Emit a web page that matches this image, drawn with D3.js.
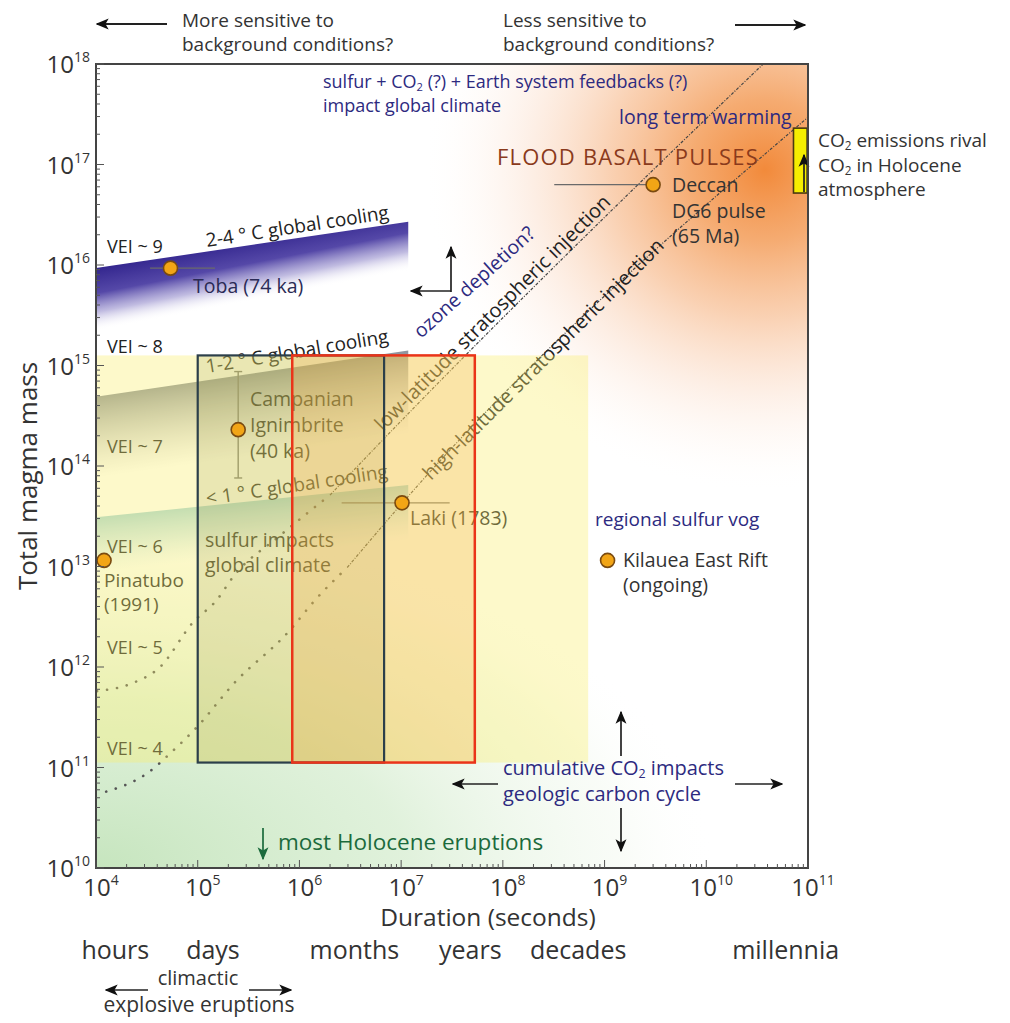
<!DOCTYPE html>
<html><head><meta charset="utf-8">
<script src="https://cdn.jsdelivr.net/npm/d3@7"></script>
<style>
body{margin:0;background:#fff}
svg text{font-family:'Open Sans','Noto Sans',sans-serif}
</style>
</head><body>
<svg id="c" width="1010" height="1023"></svg>
<script>
// ---------------- DATA ----------------
const xTickExp = [4,5,6,7,8,9,10,11];
const yTickExp = [10,11,12,13,14,15,16,17,18];

const timeWords   = ["hours","days","months","years","decades","millennia"];
const timeWordLog = [4.19, 5.15, 6.54, 7.68, 8.74, 10.78];

const eruptionNames    = ["Toba","Campanian","Pinatubo","Laki","Kilauea","Deccan"];
const eruptionDuration = [5.4e4, 2.5e5, 1.2e4, 1.02e7, 1.07e9, 3.0e9];
const eruptionMass     = [9.3e15, 2.3e14, 1.15e13, 4.3e13, 1.15e13, 6.3e16];

// horizontal error bars: [durLow, durHigh, mass]
const hErrorBars = [[3.4e4, 1.48e5, 9.3e15], [2.6e6, 3.0e7, 4.3e13], [3.2e8, 3.0e9, 6.3e16]];
// vertical error bar: [duration, massLow, massHigh]
const vErrorBars = [[2.5e5, 7.6e13, 8.7e14]];

// curves, [log10 duration, log10 mass]
const vei5Dotted   = [[4.01,11.76],[4.36,11.84],[4.63,12.00],[4.95,12.44],[5.19,12.67],[5.35,12.90],[5.80,13.30],[6.30,13.71]];
const lowLatLine   = [[6.30,13.71],[6.82,14.26],[9.40,16.87],[10.56,18.0]];
const vei4Dotted   = [[4.10,10.76],[4.50,10.94],[4.76,11.17],[4.99,11.40],[5.35,11.83],[5.91,12.37],[6.14,12.65],[6.47,12.99]];
const highLatLine  = [[6.47,12.99],[7.01,13.63],[11.0,17.47]];

// cooling bands: top edge [log dur, log mass]
const purpleBandTop = [[4.0,15.97],[7.07,16.43]];
const grayBandTop   = [[4.0,14.69],[7.07,15.15]];
const tealBandTop   = [[4.0,13.49],[7.07,13.81]];

// boxes [durMin, durMax, massMin, massMax]
const yellowBox = [1e4, 6.9e8, 1.12e11, 1.26e15];
const darkBox   = [1e5, 6.8e6, 1.12e11, 1.26e15];
const redBox    = [8.5e5, 5.3e7, 1.12e11, 1.26e15];
const co2Bar    = [7.2e10, 9.8e10, 5.2e16, 2.3e17];

// ---------------- SETUP ----------------
const svg = d3.select("#c");
const x = d3.scaleLog().domain([1e4,1e11]).range([96,808]);
const y = d3.scaleLog().domain([1e10,1e18]).range([868,64]);
const P = v => Math.pow(10, v);
const lx = v => x(P(v)), ly = v => y(P(v));

const defs = svg.append("defs");
defs.append("clipPath").attr("id","plotClip").append("rect")
  .attr("x",x(1e4)).attr("y",y(1e18)).attr("width",x(1e11)-x(1e4)).attr("height",y(1e10)-y(1e18));

defs.append("marker").attr("id","ah").attr("viewBox","0 0 10 10").attr("refX",9).attr("refY",5)
  .attr("markerWidth",13).attr("markerHeight",13).attr("markerUnits","userSpaceOnUse").attr("orient","auto")
  .append("path").attr("d","M0,0.8 L10,5 L0,9.2 L2.5,5 z").attr("fill","#111");
defs.append("marker").attr("id","ahg").attr("viewBox","0 0 10 10").attr("refX",9).attr("refY",5)
  .attr("markerWidth",13).attr("markerHeight",13).attr("markerUnits","userSpaceOnUse").attr("orient","auto")
  .append("path").attr("d","M0,0.8 L10,5 L0,9.2 L2.5,5 z").attr("fill","#1b6a3c");

function stops(g, arr){ arr.forEach(s=>g.append("stop").attr("offset",s[0]).attr("stop-color",s[1]).attr("stop-opacity",s[2])); }

// orange radial
const og = defs.append("radialGradient").attr("id","orangeG").attr("gradientUnits","userSpaceOnUse")
  .attr("cx",765).attr("cy",170).attr("r",380)
  .attr("gradientTransform","translate(765,170) scale(0.9,0.85) translate(-765,-170)");
stops(og, [[0,"#f07a20",0.88],[0.22,"#f29145",0.76],[0.45,"#f5aa72",0.55],[0.7,"#f9cdb0",0.3],[0.88,"#fde8da",0.12],[1,"#ffffff",0]]);

// green radial
const gg = defs.append("radialGradient").attr("id","greenG").attr("gradientUnits","userSpaceOnUse")
  .attr("cx",96).attr("cy",868).attr("r",620)
  .attr("gradientTransform","translate(96,868) scale(1,0.55) translate(-96,-868)");
stops(gg, [[0,"#c6e5be",1],[0.5,"#d6edd0",0.75],[0.85,"#eef7ea",0.35],[1,"#ffffff",0]]);

const plot = svg.append("g").attr("clip-path","url(#plotClip)");
plot.append("rect").attr("x",96).attr("y",64).attr("width",712).attr("height",804).attr("fill","#fff");
plot.append("rect").attr("x",96).attr("y",64).attr("width",712).attr("height",804).attr("fill","url(#greenG)");
plot.append("rect").attr("x",96).attr("y",64).attr("width",712).attr("height",804).attr("fill","url(#orangeG)");

// bands: gradient tilted so the right end fades faster
function band(top, L, tilt, depth, id, st){
  const x0 = lx(top[0][0]), y0 = ly(top[0][1]), x1 = lx(top[1][0]), y1 = ly(top[1][1]);
  const th = tilt*Math.PI/180;
  const lg = defs.append("linearGradient").attr("id",id).attr("gradientUnits","userSpaceOnUse")
    .attr("x1",x0).attr("y1",y0).attr("x2",x0+L*Math.sin(th)).attr("y2",y0+L*Math.cos(th));
  stops(lg, st);
  plot.append("path").attr("d",`M${x0},${y0}L${x1},${y1}L${x1},${y1+depth}L${x0},${y0+depth}Z`)
    .attr("fill",`url(#${id})`);
}
band(purpleBandTop, 62, 11, 120, "purpleG", [[0,"#33268e",1],[0.4,"#4638a0",0.92],[0.7,"#8d84c8",0.55],[1,"#ffffff",0]]);
band(grayBandTop, 80, 8, 120, "grayG", [[0,"#8a909a",0.95],[0.35,"#a2a6aa",0.65],[1,"#c0c0c0",0]]);
band(tealBandTop, 55, 6, 90, "tealG", [[0,"#a2d2d6",0.95],[0.5,"#b9dde0",0.55],[1,"#d0e8e8",0]]);

// ---------------- LINES ----------------
const line = d3.line().x(d=>lx(d[0])).y(d=>ly(d[1])).curve(d3.curveMonotoneX);
[vei5Dotted, vei4Dotted].forEach(c=>{
  plot.append("path").attr("d",line(c)).attr("fill","none").attr("stroke","#555")
    .attr("stroke-width",2.6).attr("stroke-linecap","round").attr("stroke-dasharray","0.1 10");
});
[lowLatLine, highLatLine].forEach(c=>{
  plot.append("path").attr("d",line(c)).attr("fill","none").attr("stroke","#444")
    .attr("stroke-width",1.2).attr("stroke-dasharray","3 1.5 1 1.5");
});

// error bars
hErrorBars.forEach(b=>{
  plot.append("line").attr("x1",x(b[0])).attr("x2",x(b[1])).attr("y1",y(b[2])).attr("y2",y(b[2]))
    .attr("stroke","#6a6a6a").attr("stroke-width",1.4);
});
vErrorBars.forEach(b=>{
  plot.append("line").attr("x1",x(b[0])).attr("x2",x(b[0])).attr("y1",y(b[1])).attr("y2",y(b[2]))
    .attr("stroke","#777").attr("stroke-width",1.4);
  [b[1],b[2]].forEach(m=>plot.append("line").attr("x1",x(b[0])-4).attr("x2",x(b[0])+4).attr("y1",y(m)).attr("y2",y(m))
    .attr("stroke","#777").attr("stroke-width",1.4));
});

// ---------------- TEXT ----------------
function txt(g, px, py, s, o={}){
  const fs = o.size||19.5;
  const t = g.append("text").attr("x",px).attr("y",py).attr("font-size",fs).attr("fill",o.color||"#333");
  if(o.anchor) t.attr("text-anchor",o.anchor);
  if(o.rotate!=null) t.attr("transform",`rotate(${o.rotate},${px},${py})`);
  if(o.ls) t.attr("letter-spacing",o.ls);
  s.split("₂").forEach((p,i)=>{
    if(i>0){ t.append("tspan").attr("font-size",fs*0.62).attr("dy",fs*0.15).text("2");
             t.append("tspan").attr("dy",-fs*0.15).text(p); }
    else t.append("tspan").text(p);
  });
  return t;
}
const NAVY = "#2d2a80", DARK="#333";
const tg = svg.append("g");   // text inside plot (under overlays)

txt(tg, 323, 88, "sulfur + CO₂ (?) + Earth system feedbacks (?)", {size:18, color:NAVY});
txt(tg, 323, 112, "impact global climate", {size:18, color:NAVY});
txt(tg, 619, 124, "long term warming", {size:19.5, color:NAVY});
txt(tg, 497, 165, "FLOOD BASALT PULSES", {size:22, color:"#8a3a1c", ls:1.2});
txt(tg, 672, 192, "Deccan", {color:DARK});
txt(tg, 672, 218, "DG6 pulse", {color:DARK});
txt(tg, 672, 243, "(65 Ma)", {color:DARK});

txt(tg, 107, 253, "VEI ~ 9", {size:18, color:"#222"});
txt(tg, 207, 247, "2-4 ° C global cooling", {size:19, color:"#222", rotate:-8.8});
txt(tg, 193, 293, "Toba (74 ka)", {color:"#2a2a55"});
txt(tg, 421, 339, "ozone depletion?", {size:19.5, color:NAVY, rotate:-42});
txt(tg, 383, 432, "low-latitude stratospheric injection", {size:20, color:"#222", rotate:-45});
txt(tg, 431, 481, "high-latitude stratospheric injection", {size:20, color:"#222", rotate:-45});

txt(tg, 107, 353, "VEI ~ 8", {size:18, color:"#222"});
txt(tg, 207, 373, "1-2 ° C global cooling", {size:19, color:"#222", rotate:-9.5});
txt(tg, 250, 406, "Campanian", {color:"#222"});
txt(tg, 250, 432, "Ignimbrite", {color:"#222"});
txt(tg, 250, 458, "(40 ka)", {color:"#222"});
txt(tg, 107, 453, "VEI ~ 7", {size:18, color:"#222"});
txt(tg, 207, 505, "< 1 ° C global cooling", {size:19, color:"#222", rotate:-8.5});
txt(tg, 410, 525, "Laki (1783)", {color:"#222"});
txt(tg, 595, 526, "regional sulfur vog", {size:19, color:NAVY});
txt(tg, 623, 567, "Kilauea East Rift", {color:DARK});
txt(tg, 623, 592, "(ongoing)", {color:DARK});
txt(tg, 107, 553, "VEI ~ 6", {size:18, color:"#222"});
txt(tg, 104, 587, "Pinatubo", {size:19, color:"#222"});
txt(tg, 104, 611, "(1991)", {size:19, color:"#222"});
txt(tg, 205, 547, "sulfur impacts", {color:"#222"});
txt(tg, 205, 572, "global climate", {color:"#222"});
txt(tg, 107, 654, "VEI ~ 5", {size:18, color:"#222"});
txt(tg, 107, 755, "VEI ~ 4", {size:18, color:"#222"});
txt(tg, 278, 850, "most Holocene eruptions", {size:22.5, color:"#1b6a3c"});
txt(tg, 503, 775, "cumulative CO₂ impacts", {size:20, color:NAVY});
txt(tg, 503, 801, "geologic carbon cycle", {size:20, color:NAVY});

// ---------------- OVERLAY BOXES ----------------
function boxRect(b){ return {x:x(b[0]), y:y(b[3]), w:x(b[1])-x(b[0]), h:y(b[2])-y(b[3])}; }
const yb = boxRect(yellowBox), db = boxRect(darkBox), rb = boxRect(redBox);
svg.append("rect").attr("x",yb.x).attr("y",yb.y).attr("width",yb.w).attr("height",yb.h)
  .attr("fill","#f9ef6c").attr("fill-opacity",0.36);
svg.append("rect").attr("x",db.x).attr("y",db.y).attr("width",db.w).attr("height",db.h)
  .attr("fill","#8a8a40").attr("fill-opacity",0.16);
svg.append("rect").attr("x",rb.x).attr("y",rb.y).attr("width",rb.w).attr("height",rb.h)
  .attr("fill","#f3a23a").attr("fill-opacity",0.24);
svg.append("rect").attr("x",db.x).attr("y",db.y).attr("width",db.w).attr("height",db.h)
  .attr("fill","none").attr("stroke","#2c3f4a").attr("stroke-width",2.2);
svg.append("rect").attr("x",rb.x).attr("y",rb.y).attr("width",rb.w).attr("height",rb.h)
  .attr("fill","none").attr("stroke","#ea3419").attr("stroke-width",2.5);

// points
svg.append("g").selectAll("circle").data(eruptionNames).join("circle")
  .attr("cx",(d,i)=>x(eruptionDuration[i])).attr("cy",(d,i)=>y(eruptionMass[i])).attr("r",7)
  .attr("fill","#f2a516").attr("stroke","#7a4a10").attr("stroke-width",1.6);

// CO2 bar
const cb = boxRect(co2Bar);
svg.append("rect").attr("x",cb.x).attr("y",cb.y).attr("width",cb.w).attr("height",cb.h)
  .attr("fill","#f5ee00").attr("stroke","#4a3a10").attr("stroke-width",1.6);

// ---------------- ARROWS ----------------
const arrows = [
  [167,24,97,24],[735,25,805,25],
  [451,291,411,291],[451,292,451,247],
  [621,756,621,712],[621,808,621,851],[498,784,453,784],[735,784,782,784],
  [263,828,263,859],
  [804,192,804,155],
  [148,990,106,990],[249,990,291,990]
];
svg.append("g").selectAll("line").data(arrows).join("line")
  .attr("x1",d=>d[0]).attr("y1",d=>d[1]).attr("x2",d=>d[2]).attr("y2",d=>d[3])
  .attr("stroke",(d,i)=>i===8?"#1b6a3c":"#222").attr("stroke-width",(d,i)=>i<2?2:1.7)
  .attr("marker-end",(d,i)=>i===8?"url(#ahg)":"url(#ah)");

// ---------------- AXES ----------------
const ax = svg.append("g");
ax.append("rect").attr("x",96).attr("y",64).attr("width",712).attr("height",804)
  .attr("fill","none").attr("stroke","#444").attr("stroke-width",2);
y.ticks().forEach(t=>{
  const lg = Math.log10(t), major = Math.abs(lg-Math.round(lg))<1e-6;
  ax.append("line").attr("x1",96).attr("x2",96+(major?8:4)).attr("y1",y(t)).attr("y2",y(t))
    .attr("stroke","#555").attr("stroke-width",1);
});
x.ticks().forEach(t=>{
  const lg = Math.log10(t), major = Math.abs(lg-Math.round(lg))<1e-6;
  ax.append("line").attr("y1",868).attr("y2",868-(major?8:4)).attr("x1",x(t)).attr("x2",x(t))
    .attr("stroke","#555").attr("stroke-width",1);
});
yTickExp.forEach(e=>{
  const t = ax.append("text").attr("x",90).attr("y",y(P(e))+9).attr("text-anchor","end")
    .attr("font-size",24).attr("fill","#333");
  t.append("tspan").text("10");
  t.append("tspan").attr("dy",-11).attr("font-size",14).text(e);
});
xTickExp.forEach(e=>{
  const t = ax.append("text").attr("x",x(P(e))+5).attr("y",896).attr("text-anchor","middle")
    .attr("font-size",24).attr("fill","#333");
  t.append("tspan").text("10");
  t.append("tspan").attr("dy",-11).attr("font-size",14).text(e);
});
txt(svg, 488, 926, "Duration (seconds)", {size:24.5, anchor:"middle", color:"#333"});
txt(svg, 37, 476, "Total magma mass", {size:26, anchor:"middle", color:"#333", rotate:-90});

timeWords.forEach((w,i)=>txt(svg, lx(timeWordLog[i]), 959, w, {size:25, anchor:"middle", color:"#333"}));
txt(svg, 198, 985, "climactic", {size:20, anchor:"middle", color:"#333"});
txt(svg, 199, 1012, "explosive eruptions", {size:21, anchor:"middle", color:"#333"});

// top annotations
txt(svg, 182, 27, "More sensitive to", {size:19, color:"#333"});
txt(svg, 182, 51, "background conditions?", {size:19, color:"#333"});
txt(svg, 503, 27, "Less sensitive to", {size:19, color:"#333"});
txt(svg, 503, 51, "background conditions?", {size:19, color:"#333"});
txt(svg, 818, 147, "CO₂ emissions rival", {size:19, color:"#333"});
txt(svg, 818, 172, "CO₂ in Holocene", {size:19, color:"#333"});
txt(svg, 818, 196, "atmosphere", {size:19, color:"#333"});
</script>
</body></html>
